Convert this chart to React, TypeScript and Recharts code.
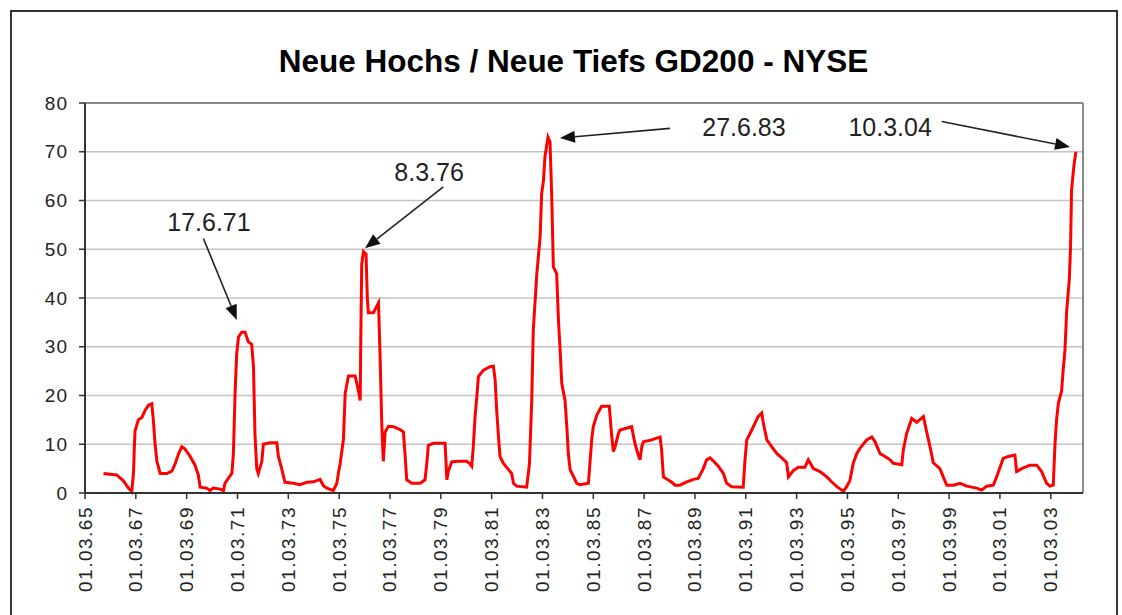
import React from "react";
import {
  LineChart,
  Line,
  XAxis,
  YAxis,
  CartesianGrid,
  ReferenceLine,
  ReferenceDot,
} from "recharts";

// Dates as fractional years
const dates: number[] = [
  1965.89, 1966.41, 1966.67, 1966.87, 1967.0, 1967.07, 1967.1, 1967.13, 1967.26, 1967.4,
  1967.53, 1967.66, 1967.79, 1967.85, 1967.92, 1967.99, 1968.12, 1968.38, 1968.58, 1968.71,
  1968.84, 1968.97, 1969.1, 1969.3, 1969.49, 1969.62, 1969.69, 1969.95, 1970.08, 1970.21,
  1970.48, 1970.61, 1970.67, 1970.8, 1970.94, 1971.0, 1971.07, 1971.13, 1971.2, 1971.33,
  1971.46, 1971.59, 1971.72, 1971.79, 1971.85, 1971.92, 1971.98, 1972.12, 1972.18, 1972.44,
  1972.71, 1972.77, 1972.9, 1973.03, 1973.36, 1973.62, 1973.89, 1974.15, 1974.41, 1974.54,
  1974.68, 1974.93, 1975.07, 1975.13, 1975.2, 1975.33, 1975.4, 1975.53, 1975.79, 1975.92,
  1975.99, 1976.01, 1976.05, 1976.12, 1976.22, 1976.27, 1976.31, 1976.51, 1976.71, 1976.77,
  1976.84, 1976.9, 1976.97, 1977.1, 1977.3, 1977.56, 1977.69, 1977.76, 1977.82, 1978.02,
  1978.35, 1978.54, 1978.61, 1978.67, 1978.87, 1979.33, 1979.4, 1979.46, 1979.59, 1979.85,
  1980.18, 1980.31, 1980.38, 1980.44, 1980.51, 1980.58, 1980.64, 1980.84, 1981.1, 1981.23,
  1981.3, 1981.36, 1981.43, 1981.49, 1981.62, 1981.76, 1981.95, 1982.02, 1982.15, 1982.54,
  1982.65, 1982.74, 1982.8, 1982.94, 1983.07, 1983.13, 1983.2, 1983.26, 1983.38, 1983.46,
  1983.53, 1983.59, 1983.72, 1983.79, 1983.85, 1983.92, 1984.05, 1984.12, 1984.18, 1984.25,
  1984.38, 1984.51, 1984.64, 1984.97, 1985.1, 1985.16, 1985.3, 1985.49, 1985.79, 1985.89,
  1985.95, 1986.02, 1986.15, 1986.21, 1986.67, 1986.8, 1986.93, 1987.0, 1987.07, 1987.13,
  1987.46, 1987.79, 1987.85, 1987.92, 1988.25, 1988.38, 1988.57, 1988.84, 1989.1, 1989.29,
  1989.49, 1989.62, 1989.75, 1989.88, 1990.08, 1990.28, 1990.41, 1990.61, 1991.06, 1991.13,
  1991.2, 1991.33, 1991.46, 1991.65, 1991.79, 1991.85, 1991.99, 1992.18, 1992.38, 1992.58,
  1992.77, 1992.84, 1993.03, 1993.23, 1993.49, 1993.62, 1993.82, 1994.08, 1994.35, 1994.54,
  1994.74, 1994.94, 1995.0, 1995.13, 1995.26, 1995.39, 1995.53, 1995.66, 1995.92, 1996.12,
  1996.25, 1996.44, 1996.64, 1996.84, 1996.97, 1997.3, 1997.36, 1997.49, 1997.69, 1997.89,
  1998.15, 1998.28, 1998.41, 1998.54, 1998.8, 1998.93, 1999.07, 1999.33, 1999.59, 1999.85,
  2000.25, 2000.44, 2000.64, 2000.9, 2001.03, 2001.29, 2001.49, 2001.75, 2001.82, 2002.02,
  2002.34, 2002.61, 2002.8, 2003.0, 2003.13, 2003.26, 2003.33, 2003.39, 2003.46, 2003.59,
  2003.65, 2003.72, 2003.79, 2003.89, 2003.94, 2003.98, 2004.07, 2004.15,
];

const values: number[] = [
  4.0, 3.7, 2.5, 1.0, 0.3, 4.0, 9.0, 12.7, 15.0, 15.5,
  17.0, 18.0, 18.3, 15.0, 10.0, 6.5, 4.0, 4.0, 4.5, 6.0,
  8.0, 9.5, 9.0, 7.5, 5.7, 3.7, 1.2, 1.0, 0.5, 1.0,
  0.8, 0.5, 2.0, 3.0, 4.0, 8.0, 21.0, 28.5, 32.0, 33.0,
  33.0, 31.0, 30.5, 26.0, 12.0, 5.0, 4.0, 6.5, 10.0, 10.3,
  10.3, 7.5, 5.0, 2.2, 2.0, 1.7, 2.2, 2.3, 2.8, 1.5,
  1.0, 0.5, 2.0, 4.0, 6.0, 11.0, 20.5, 24.0, 24.0, 21.0,
  19.0, 30.0, 47.0, 49.5, 49.0, 40.0, 37.0, 37.0, 39.0, 28.5,
  14.0, 6.5, 12.5, 13.7, 13.6, 13.0, 12.5, 7.5, 2.7, 2.0,
  2.0, 2.7, 6.0, 9.8, 10.2, 10.2, 2.7, 4.5, 6.4, 6.5,
  6.5, 6.0, 5.5, 9.5, 15.7, 19.8, 23.9, 25.2, 25.9, 26.0,
  23.2, 17.0, 11.6, 7.5, 6.1, 5.2, 4.0, 2.0, 1.4, 1.2,
  6.0, 19.0, 33.4, 45.0, 52.6, 61.5, 64.0, 69.0, 73.0, 72.0,
  60.0, 46.4, 45.0, 35.5, 30.0, 22.5, 19.0, 13.6, 8.0, 4.8,
  3.4, 2.0, 1.7, 2.0, 11.0, 13.6, 16.0, 17.8, 17.8, 11.5,
  8.5, 9.5, 12.2, 12.9, 13.6, 10.2, 7.8, 6.8, 9.5, 10.5,
  10.9, 11.5, 8.8, 3.3, 2.2, 1.6, 1.6, 2.3, 2.8, 3.0,
  5.0, 6.8, 7.2, 6.6, 5.5, 4.0, 2.0, 1.3, 1.2, 6.8,
  10.9, 12.2, 13.6, 15.7, 16.4, 14.4, 10.9, 9.5, 8.1, 7.2,
  6.2, 3.3, 4.6, 5.3, 5.3, 6.8, 5.0, 4.4, 3.3, 2.3,
  1.3, 0.6, 0.3, 1.3, 2.6, 6.1, 8.1, 9.2, 10.9, 11.5,
  10.5, 8.1, 7.5, 6.8, 6.1, 5.8, 8.8, 12.2, 15.3, 14.5,
  15.7, 12.5, 9.5, 6.2, 5.0, 3.3, 1.6, 1.6, 2.0, 1.4,
  1.0, 0.6, 1.4, 1.6, 3.3, 7.1, 7.5, 7.8, 4.4, 5.0,
  5.7, 5.7, 4.4, 2.0, 1.4, 1.6, 10.2, 15.0, 18.4, 21.0,
  25.2, 29.3, 37.5, 43.7, 50.5, 62.2, 67.0, 70.0,
];

const tickYears: number[] = [
  1965, 1967, 1969, 1971, 1973, 1975, 1977, 1979, 1981, 1983,
  1985, 1987, 1989, 1991, 1993, 1995, 1997, 1999, 2001, 2003,
];
const yTicks: number[] = [0, 10, 20, 30, 40, 50, 60, 70, 80];

const annotationLabels: string[] = ["17.6.71", "8.3.76", "27.6.83", "10.3.04"];
// label anchor (date, value), arrow start (date, value), arrow tip (date, value)
const annotationText: [number, number][] = [
  [1970.04, 55.6],
  [1978.7, 65.8],
  [1991.09, 75.1],
  [1996.84, 75.1],
];
const annotationFrom: [number, number][] = [
  [1969.82, 52.2],
  [1979.26, 62.8],
  [1988.18, 74.8],
  [1998.87, 76.2],
];
const annotationTo: [number, number][] = [
  [1971.135, 35.5],
  [1976.18, 50.2],
  [1983.85, 72.8],
  [2003.92, 71.0],
];

const MARCH = 59 / 365;
const X_MIN = 1965 + MARCH;
const X_MAX = 2004.43;

const data = dates.map((t, i) => ({ t, v: values[i] }));
const xTicks = tickYears.map((y) => y + MARCH);

const FONT = "'Liberation Sans', Arial, sans-serif";

const XTick = (props: any) => {
  const { x, y, payload } = props;
  const yr = Math.round(payload.value - MARCH);
  const label = "01.03." + String(yr % 100).padStart(2, "0");
  return (
    <text
      x={x}
      y={y}
      transform={`rotate(-90 ${x} ${y})`}
      textAnchor="end"
      dominantBaseline="central"
      fontFamily={FONT}
      fontSize={19}
      letterSpacing={1.5}
      fill="#222"
    >
      {label}
    </text>
  );
};

const ArrowShape = (props: any) => {
  const { x1, y1, x2, y2 } = props;
  const dx = x2 - x1;
  const dy = y2 - y1;
  const len = Math.sqrt(dx * dx + dy * dy) || 1;
  const ux = dx / len;
  const uy = dy / len;
  const head = 15;
  const half = 6;
  const bx = x2 - ux * head;
  const by = y2 - uy * head;
  const px = -uy * half;
  const py = ux * half;
  return (
    <g>
      <line x1={x1} y1={y1} x2={bx} y2={by} stroke="#222" strokeWidth={1.6} />
      <polygon
        points={`${x2},${y2} ${bx + px},${by + py} ${bx - px},${by - py}`}
        fill="#111"
      />
    </g>
  );
};

const makeLabelShape = (text: string) => (props: any) => (
  <text
    x={props.cx}
    y={props.cy}
    textAnchor="middle"
    dominantBaseline="central"
    fontFamily={FONT}
    fontSize={25}
    fill="#222"
  >
    {text}
  </text>
);

export default function App() {
  return (
    <div
      style={{
        position: "fixed",
        left: 0,
        top: 0,
        width: 1122,
        height: 615,
        overflow: "hidden",
        background: "#fff",
      }}
    >
      <div
        style={{
          position: "absolute",
          left: 10,
          top: 10,
          width: 1108,
          height: 800,
          border: "2px solid #333",
          boxSizing: "border-box",
        }}
      />
      <div
        style={{
          position: "absolute",
          left: 0,
          top: 46,
          width: 1147,
          textAlign: "center",
          fontFamily: FONT,
          fontWeight: "bold",
          fontSize: 31.5,
          lineHeight: "31px",
          color: "#000",
        }}
      >
        Neue Hochs / Neue Tiefs GD200 - NYSE
      </div>
      <div style={{ position: "absolute", left: 0, top: 0 }}>
        <LineChart
          width={1122}
          height={615}
          data={data}
          margin={{ top: 103, right: 39, bottom: 0, left: 0 }}
        >
          <CartesianGrid vertical={false} stroke="#c4c4c4" strokeWidth={1.5} />
          <XAxis
            type="number"
            dataKey="t"
            domain={[X_MIN, X_MAX]}
            ticks={xTicks}
            interval={0}
            height={122}
            tick={<XTick />}
            tickSize={6}
            tickMargin={7}
            axisLine={{ stroke: "#333", strokeWidth: 2 }}
            tickLine={{ stroke: "#333", strokeWidth: 1.5 }}
            allowDataOverflow
          />
          <YAxis
            type="number"
            domain={[0, 80]}
            ticks={yTicks}
            interval={0}
            width={85}
            tickSize={6}
            tickMargin={11}
            axisLine={{ stroke: "#333", strokeWidth: 2 }}
            tickLine={{ stroke: "#333", strokeWidth: 1.5 }}
            tick={{ fontFamily: FONT, fontSize: 19, fill: "#222", letterSpacing: 1 }}
          />
          <ReferenceLine y={80} stroke="#8a8a8a" strokeWidth={2} ifOverflow="visible" />
          <ReferenceLine x={X_MAX} stroke="#8a8a8a" strokeWidth={2} ifOverflow="visible" />
          <Line
            type="linear"
            dataKey="v"
            stroke="#ff0000"
            strokeWidth={3}
            dot={false}
            activeDot={false}
            isAnimationActive={false}
          />
          {annotationLabels.map((lab, i) => (
            <ReferenceLine
              key={"a" + i}
              segment={[
                { x: annotationFrom[i][0], y: annotationFrom[i][1] },
                { x: annotationTo[i][0], y: annotationTo[i][1] },
              ]}
              ifOverflow="visible"
              shape={ArrowShape}
            />
          ))}
          {annotationLabels.map((lab, i) => (
            <ReferenceDot
              key={"l" + i}
              x={annotationText[i][0]}
              y={annotationText[i][1]}
              r={0}
              ifOverflow="visible"
              shape={makeLabelShape(lab)}
            />
          ))}
        </LineChart>
      </div>
    </div>
  );
}
